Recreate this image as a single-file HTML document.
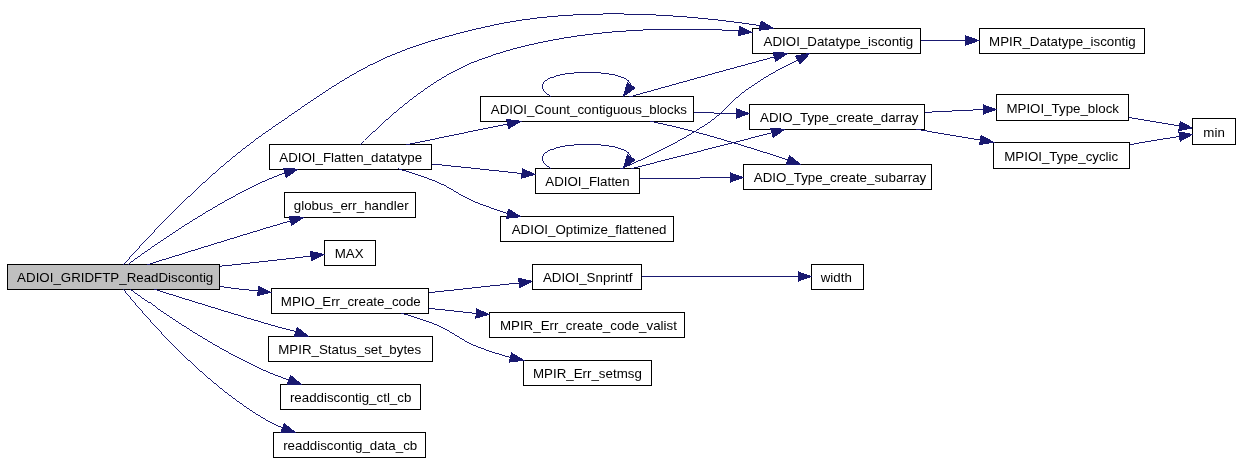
<!DOCTYPE html>
<html lang="en">
<head>
<meta charset="utf-8">
<title>ADIOI_GRIDFTP_ReadDiscontig call graph</title>
<style>
html,body{margin:0;padding:0;background:#fff;}
body{width:1240px;height:461px;overflow:hidden;}
svg{display:block;will-change:transform;}
.n rect{stroke:#000;stroke-width:1;shape-rendering:crispEdges;}
.n text{font-family:"Liberation Sans",Arial,Helvetica,sans-serif;font-size:13.33px;fill:#000;text-anchor:middle;}
.e path{fill:none;stroke:#191970;stroke-width:0.999;shape-rendering:crispEdges;}
.e polygon{fill:#191970;stroke:#191970;stroke-width:1;shape-rendering:crispEdges;}
</style>
</head>
<body>
<svg width="1240" height="461" viewBox="0 0 1240 461">
<rect x="0" y="0" width="1240" height="461" fill="#ffffff"/>
<g class="n">
<rect x="7.5" y="264.5" width="212" height="25" fill="#bfbfbf"/>
<text transform="translate(115.2,281.8) scale(1,1.02)">ADIOI_GRIDFTP_ReadDiscontig</text>
<rect x="752.5" y="28.5" width="168" height="25" fill="#ffffff"/>
<text transform="translate(838.4,45.8) scale(1,1.02)">ADIOI_Datatype_iscontig</text>
<rect x="269.5" y="144.5" width="162" height="25" fill="#ffffff"/>
<text transform="translate(350.7,161.8) scale(1,1.02)">ADIOI_Flatten_datatype</text>
<rect x="284.5" y="192.5" width="131" height="25" fill="#ffffff"/>
<text transform="translate(351.2,209.8) scale(1,1.02)">globus_err_handler</text>
<rect x="324.5" y="240.5" width="51" height="25" fill="#ffffff"/>
<text transform="translate(349.1,257.8) scale(1,1.02)">MAX</text>
<rect x="271.5" y="288.5" width="157" height="25" fill="#ffffff"/>
<text transform="translate(350.8,305.8) scale(1,1.02)">MPIO_Err_create_code</text>
<rect x="268.5" y="336.5" width="164" height="25" fill="#ffffff"/>
<text transform="translate(349.7,353.8) scale(1,1.02)">MPIR_Status_set_bytes</text>
<rect x="280.5" y="384.5" width="140" height="25" fill="#ffffff"/>
<text transform="translate(350.6,401.8) scale(1,1.02)">readdiscontig_ctl_cb</text>
<rect x="273.5" y="432.5" width="152" height="25" fill="#ffffff"/>
<text transform="translate(350.2,449.8) scale(1,1.02)">readdiscontig_data_cb</text>
<rect x="979.5" y="28.5" width="165" height="25" fill="#ffffff"/>
<text transform="translate(1062.4,45.8) scale(1,1.02)">MPIR_Datatype_iscontig</text>
<rect x="480.5" y="96.5" width="213" height="25" fill="#ffffff"/>
<text transform="translate(588.9,113.8) scale(1,1.02)">ADIOI_Count_contiguous_blocks</text>
<rect x="535.5" y="168.5" width="104" height="25" fill="#ffffff"/>
<text transform="translate(587.5,185.8) scale(1,1.02)">ADIOI_Flatten</text>
<rect x="500.5" y="216.5" width="173" height="25" fill="#ffffff"/>
<text transform="translate(589.1,233.8) scale(1,1.02)">ADIOI_Optimize_flattened</text>
<rect x="749.5" y="104.5" width="175" height="25" fill="#ffffff"/>
<text transform="translate(839.3,121.8) scale(1,1.02)">ADIO_Type_create_darray</text>
<rect x="743.5" y="164.5" width="188" height="25" fill="#ffffff"/>
<text transform="translate(840,181.8) scale(1,1.02)">ADIO_Type_create_subarray</text>
<rect x="996.5" y="94.5" width="132" height="26" fill="#ffffff"/>
<text transform="translate(1062.7,113.2) scale(1,1.02)">MPIOI_Type_block</text>
<rect x="993.5" y="142.5" width="136" height="26" fill="#ffffff"/>
<text transform="translate(1061.2,161.2) scale(1,1.02)">MPIOI_Type_cyclic</text>
<rect x="1192.5" y="118.5" width="43" height="26" fill="#ffffff"/>
<text transform="translate(1214.1,137.2) scale(1,1.02)">min</text>
<rect x="532.5" y="264.5" width="109" height="25" fill="#ffffff"/>
<text transform="translate(587.7,281.8) scale(1,1.02)">ADIOI_Snprintf</text>
<rect x="489.5" y="312.5" width="195" height="25" fill="#ffffff"/>
<text transform="translate(588.4,329.8) scale(1,1.02)">MPIR_Err_create_code_valist</text>
<rect x="523.5" y="360.5" width="128" height="25" fill="#ffffff"/>
<text transform="translate(587.4,377.8) scale(1,1.02)">MPIR_Err_setmsg</text>
<rect x="811.5" y="264.5" width="52" height="25" fill="#ffffff"/>
<text transform="translate(836.3,281.8) scale(1,1.02)">width</text>
</g>
<g class="e">
<!-- ADIOI_GRIDFTP_ReadDiscontig to ADIOI_Datatype_iscontig -->
<path d="M123.43,264.87C147.07,238.01 206.84,173.06 267.23,131.33 354,71.5 378.1,52.01 480.62,27.99 578.42,4.03 694.97,15.75 760.2,25.6"/>
<polygon points="759.21,30.16 773.5,28.5 761.19,21.04"/>
<!-- ADIOI_GRIDFTP_ReadDiscontig to ADIOI_Flatten_datatype -->
<path d="M127.52,264.79C154.67,244.83 211.61,205.05 265.2,180.73 271.48,177.9 278.16,175.29 284.9,172.9"/>
<polygon points="286.18,177.39 297.9,169.2 283.62,168.41"/>
<!-- ADIOI_GRIDFTP_ReadDiscontig to globus_err_handler -->
<path d="M147.12,264.81C178.58,254.96 223.99,240.81 263.58,228.87 272.24,226.26 281.44,223.54 290.4,220.9"/>
<polygon points="291.64,225.4 303.8,217.2 289.16,216.4"/>
<!-- ADIOI_GRIDFTP_ReadDiscontig to MAX -->
<path d="M220.19,266.2C252.59,262.87 286.23,259.06 311,256.1"/>
<polygon points="311.61,260.73 323.9,254.4 310.39,251.47"/>
<!-- ADIOI_GRIDFTP_ReadDiscontig to MPIO_Err_create_code -->
<path d="M219.5,286.5C232.67,288.47 245.64,289.79 258.1,290.9"/>
<polygon points="257.59,295.54 270.9,292.3 258.61,286.26"/>
<!-- ADIOI_GRIDFTP_ReadDiscontig to MPIR_Status_set_bytes -->
<path d="M154.02,289.19C185.23,298.97 230.31,313.03 269.43,324.53 277.95,326.94 286.99,329.46 295.8,331.9"/>
<polygon points="294.2,336.29 308.7,336.6 297.4,327.51"/>
<!-- ADIOI_GRIDFTP_ReadDiscontig to readdiscontig_ctl_cb -->
<path d="M130.22,289.21C157.51,309.17 214.73,348.95 268.94,372.56 275.3,375.24 282.07,377.68 288.9,379.9"/>
<polygon points="287.27,384.28 301.5,384.6 290.53,375.52"/>
<!-- ADIOI_GRIDFTP_ReadDiscontig to readdiscontig_data_cb -->
<path d="M123.11,289.01C145.26,316.51 203.65,384.43 267.88,420.85 272.53,423.46 277.49,425.79 282.6,427.9"/>
<polygon points="281,432.29 295.5,432.6 284.2,423.51"/>
<!-- ADIOI_Datatype_iscontig to MPIR_Datatype_iscontig -->
<path d="M921.13,40.5C935.57,40.5 950.8,40.5 965.7,40.5"/>
<polygon points="965.7,45.17 978.7,40.5 965.7,35.83"/>
<!-- ADIOI_Flatten_datatype to ADIOI_Datatype_iscontig -->
<path d="M360.48,144.96C381.55,123.12 429.48,77.76 480.47,59.48 564.16,28.6 665.49,26.32 739,30.9"/>
<polygon points="738.5,35.54 751.9,32.3 739.5,26.26"/>
<!-- ADIOI_Flatten_datatype to ADIOI_Count_contiguous_blocks -->
<path d="M406.09,144.89C437.03,138.47 475.19,130.6 507.6,124"/>
<polygon points="508.52,128.58 521,121.3 506.68,119.42"/>
<!-- ADIOI_Flatten_datatype to ADIOI_Flatten -->
<path d="M432.37,164.05C461.54,167.04 494.19,170.48 522,173.5"/>
<polygon points="521.67,178.16 534.9,174.4 522.33,168.84"/>
<!-- ADIOI_Flatten_datatype to ADIOI_Optimize_flattened -->
<path d="M397.53,168.57C409.06,171.91 421.32,175.83 432.45,180.11 454.6,188.64 457.96,195.79 480.19,203.91 489.07,207.23 498.3,210.62 507.5,213.7"/>
<polygon points="506.47,218.25 520.7,216.7 508.53,209.15"/>
<!-- ADIOI_Count_contiguous_blocks to ADIOI_Datatype_iscontig -->
<path d="M629.01,96.99C671.31,85.22 729.67,68.99 774.4,56.9"/>
<polygon points="775.66,61.4 787.6,53.2 773.14,52.4"/>
<!-- ADIOI_Count_contiguous_blocks to ADIOI_Count_contiguous_blocks -->
<path d="M551.2,96.5C531.5,85.5 545,72.5 587,72.5 615,72.5 629.5,78 631.2,85.4"/>
<polygon points="627.39,82.7 623.4,96.4 635.01,88.1"/>
<!-- ADIOI_Count_contiguous_blocks to ADIO_Type_create_darray -->
<path d="M693.73,112.65C707.76,112.85 722.22,113.16 736.3,113.5"/>
<polygon points="736.3,118.17 749,113.5 736.3,108.83"/>
<!-- ADIOI_Count_contiguous_blocks to ADIO_Type_create_subarray -->
<path d="M649.81,121.09C664.23,124.23 679.86,127.81 694.31,131.57 724.88,139.9 758.63,150.11 787.9,160"/>
<polygon points="786.33,164.4 800.8,164.6 789.47,155.6"/>
<!-- ADIO_Type_create_darray to MPIOI_Type_block -->
<path d="M924.8,112.4C943.79,111.4 964.12,110.41 983.2,109.5"/>
<polygon points="983.2,114.17 995.9,109.5 983.2,104.83"/>
<!-- ADIO_Type_create_darray to MPIOI_Type_cyclic -->
<path d="M915.82,129.02C936.18,132.83 959.19,136.63 980.4,140"/>
<polygon points="979.6,144.6 993.7,142.3 981.2,135.4"/>
<!-- MPIOI_Type_block to min -->
<path d="M1128.9,117.45C1146.23,120.44 1164.46,123.5 1179.5,126"/>
<polygon points="1178.77,130.61 1192.1,128 1180.23,121.39"/>
<!-- MPIOI_Type_cyclic to min -->
<path d="M1129.63,144.75C1146.82,141.53 1164.7,138.73 1179.5,136.5"/>
<polygon points="1180.23,141.11 1192.1,134.5 1178.77,131.89"/>
<!-- ADIOI_Flatten to ADIOI_Datatype_iscontig -->
<path d="M620.42,168.96C643.48,159.16 673.86,144.96 698.87,128.95 727.33,112.45 727.89,101.35 753.54,85 767.26,75.52 783.24,67 797.8,60.1"/>
<polygon points="800.13,64.15 809.8,53.2 795.47,56.05"/>
<!-- ADIOI_Flatten to ADIO_Type_create_darray -->
<path d="M630.63,168.87C670.76,158.6 729.29,143.64 771.9,132.8"/>
<polygon points="773.12,137.31 784.8,129.3 770.68,128.29"/>
<!-- ADIOI_Flatten to ADIO_Type_create_subarray -->
<path d="M639.81,178.99C665.94,178.56 698.74,178.02 730.2,177.5"/>
<polygon points="730.2,182.17 742.9,177.5 730.2,172.83"/>
<!-- ADIOI_Flatten to ADIOI_Flatten -->
<path d="M551.2,168.5C531.5,157.5 545,144.5 587,144.5 615,144.5 629.5,150 631.2,157.4"/>
<polygon points="627.39,154.7 623.4,168.4 635.01,160.1"/>
<!-- MPIO_Err_create_code to ADIOI_Snprintf -->
<path d="M429.25,292.61C458.13,289.33 490.88,285.85 519.2,283"/>
<polygon points="519.85,287.62 532,281.2 518.55,278.38"/>
<!-- MPIO_Err_create_code to MPIR_Err_create_code_valist -->
<path d="M429.25,308.39C444.16,309.91 460.24,311.69 476.2,313.5"/>
<polygon points="475.87,318.16 488.9,314.4 476.53,308.84"/>
<!-- MPIO_Err_create_code to MPIR_Err_setmsg -->
<path d="M400.92,313.08C411.59,316.05 422.94,319.58 433.23,323.5 454.61,332.09 458,339.38 480.73,348.05 490.2,351.55 500.31,354.69 510.4,357.5"/>
<polygon points="509.41,362.06 523.7,360.4 511.39,352.94"/>
<!-- ADIOI_Snprintf to width -->
<path d="M641.71,276.5C688.78,276.5 755.93,276.5 798.2,276.5"/>
<polygon points="798.2,281.17 810.9,276.5 798.2,271.83"/>
</g>
</svg>
</body>
</html>
